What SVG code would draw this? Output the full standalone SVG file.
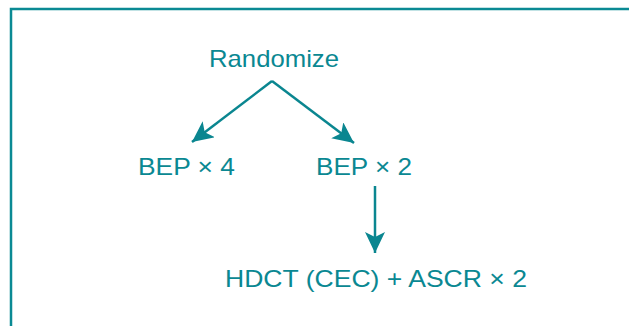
<svg xmlns="http://www.w3.org/2000/svg" width="629" height="326" viewBox="0 0 629 326">
<style>
.t{font-family:"Liberation Sans",Arial,sans-serif;font-size:24px;fill:#0a8892}
.c{stroke:#0a8690;stroke-width:2.5;fill:none}
</style>
<defs>
<marker id="ah" markerUnits="userSpaceOnUse" markerWidth="24" markerHeight="22" refX="21" refY="10" orient="auto">
<path d="M0,0 L21,10 L0,20 L5,10 Z" fill="#0a8690"/>
</marker>
</defs>
<rect x="11" y="9" width="650" height="350" fill="#fff" stroke="#0a8a94" stroke-width="2.5"/>
<g id="connectors">
<path class="c" d="M272,81 L192,142" marker-end="url(#ah)"/>
<path class="c" d="M272,81 L354,143" marker-end="url(#ah)"/>
<path class="c" d="M375,186 L375,253" marker-end="url(#ah)"/>
</g>
<g id="randomize"><text class="t" x="209" y="67" textLength="130" lengthAdjust="spacingAndGlyphs">Randomize</text></g>
<g id="bep4"><text class="t" x="138" y="175" textLength="97" lengthAdjust="spacingAndGlyphs">BEP × 4</text></g>
<g id="bep2"><text class="t" x="316" y="175" textLength="96" lengthAdjust="spacingAndGlyphs">BEP × 2</text></g>
<g id="hdct"><text class="t" x="225" y="287" textLength="302" lengthAdjust="spacingAndGlyphs">HDCT (CEC) + ASCR × 2</text></g>
</svg>
